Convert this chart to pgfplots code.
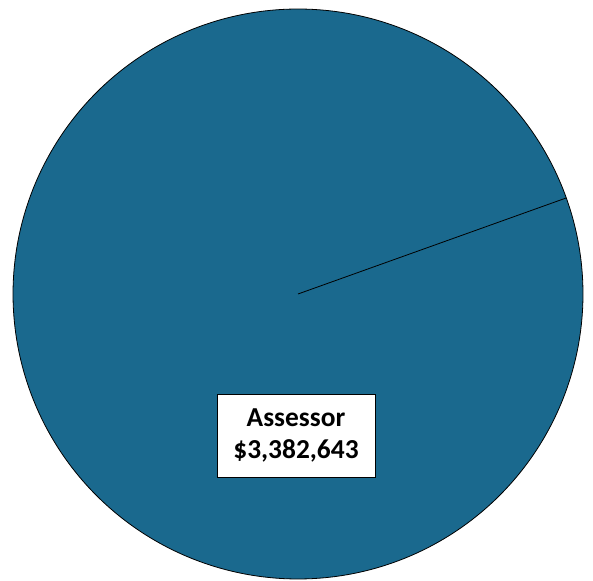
\documentclass[border=0pt]{standalone}
\usepackage{pgfplots}
\pgfplotsset{compat=1.18}
\usepackage{fontspec}
\setmainfont{Carlito}
\definecolor{slice}{RGB}{26,105,142}
\begin{document}
\begin{tikzpicture}
\begin{axis}[
  width=593bp, height=581bp, scale only axis,
  xmin=0, xmax=593, ymin=0, ymax=581,
  hide axis, clip=false,
]
% one slice: Assessor $3,382,643 = 100% of the total (values in millions)
\pgfmathsetmacro{\total}{3.382643}
\pgfmathsetmacro{\val}{3.382643}
\pgfmathsetmacro{\start}{19.7}
\pgfmathsetmacro{\stop}{\start+360*\val/\total}
\path (axis cs:0,0) rectangle (axis cs:593,581);
\addplot[fill=slice, draw=black, line width=0.8pt, domain=\start:\stop, samples=361]
  ({298+285*cos(x)},{287+285*sin(x)}) -- (axis cs:298,287) -- cycle;
\node[draw=black, line width=0.8pt, fill=white, minimum width=158bp, minimum height=83bp,
  align=center, inner sep=0pt, font=\bfseries\fontsize{27.5}{33}\selectfont]
  at (axis cs:296,145.5) {Assessor\\\$3,382,643};
\end{axis}
\end{tikzpicture}
\end{document}
